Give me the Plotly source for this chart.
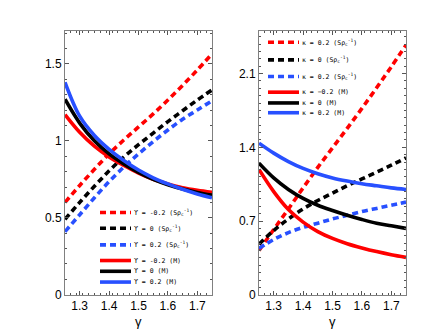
import plotly.graph_objects as go

gamma = [1.25, 1.30, 1.35, 1.40, 1.45, 1.50, 1.55, 1.60, 1.65, 1.70, 1.75]

# Left panel (Upsilon)
L_red_dash = [0.60, 0.71, 0.815, 0.915, 1.005, 1.09, 1.175, 1.265, 1.36, 1.46, 1.565]
L_blk_dash = [0.49, 0.60, 0.705, 0.805, 0.895, 0.975, 1.05, 1.125, 1.195, 1.265, 1.33]
L_blu_dash = [0.41, 0.52, 0.63, 0.735, 0.83, 0.915, 0.995, 1.07, 1.14, 1.20, 1.26]
L_red_sol = [1.17, 1.055, 0.965, 0.895, 0.84, 0.79, 0.75, 0.72, 0.695, 0.678, 0.665]
L_blk_sol = [1.27, 1.115, 1.00, 0.915, 0.85, 0.795, 0.75, 0.715, 0.687, 0.665, 0.647]
L_blu_sol = [1.38, 1.16, 1.035, 0.945, 0.872, 0.81, 0.76, 0.72, 0.685, 0.655, 0.63]

# Right panel (kappa)
R_red_dash = [0.42, 0.62, 0.815, 1.015, 1.21, 1.395, 1.58, 1.77, 1.965, 2.165, 2.37]
R_blk_dash = [0.48, 0.61, 0.72, 0.815, 0.895, 0.965, 1.035, 1.10, 1.165, 1.23, 1.30]
R_blu_dash = [0.44, 0.525, 0.59, 0.64, 0.68, 0.72, 0.755, 0.79, 0.82, 0.85, 0.88]
R_red_sol = [1.19, 0.98, 0.81, 0.69, 0.60, 0.535, 0.485, 0.445, 0.41, 0.38, 0.355]
R_blk_sol = [1.25, 1.11, 1.00, 0.915, 0.85, 0.80, 0.755, 0.715, 0.68, 0.655, 0.63]
R_blu_sol = [1.44, 1.345, 1.265, 1.20, 1.15, 1.11, 1.08, 1.055, 1.035, 1.015, 1.00]

L_labels = ["ϒ = -0.2 (Sρ<sub>c</sub><sup>-1</sup>)", "ϒ = 0 (Sρ<sub>c</sub><sup>-1</sup>)",
            "ϒ = 0.2 (Sρ<sub>c</sub><sup>-1</sup>)", "ϒ = -0.2 (M)", "ϒ = 0 (M)", "ϒ = 0.2 (M)"]
R_labels = ["κ = 0.2 (Sρ<sub>c</sub><sup>-1</sup>)", "κ = 0 (Sρ<sub>c</sub><sup>-1</sup>)",
            "κ = 0.2 (Sρ<sub>c</sub><sup>-1</sup>)", "κ = −0.2 (M)", "κ = 0 (M)", "κ = 0.2 (M)"]
x_title = "γ"

RED = "#FF0000"
BLK = "#000000"
BLU = "#2850FF"
colors = [RED, BLK, BLU, RED, BLK, BLU]
dashes = ["6px,4px"] * 3 + ["solid"] * 3

W, H = 439, 330
fig = go.Figure()

left = [L_red_dash, L_blk_dash, L_blu_dash, L_red_sol, L_blk_sol, L_blu_sol]
right = [R_red_dash, R_blk_dash, R_blu_dash, R_red_sol, R_blk_sol, R_blu_sol]
for ys, c, d in zip(left, colors, dashes):
    fig.add_trace(go.Scatter(x=gamma, y=ys, mode="lines", xaxis="x", yaxis="y",
                             line=dict(color=c, width=3.6, dash=d, shape="spline", smoothing=1.0),
                             showlegend=False))
for ys, c, d in zip(right, colors, dashes):
    fig.add_trace(go.Scatter(x=gamma, y=ys, mode="lines", xaxis="x2", yaxis="y2",
                             line=dict(color=c, width=3.6, dash=d, shape="spline", smoothing=1.0),
                             showlegend=False))

# manual legends (paper coords in pixels)
def px(x): return x / W
def py(y): return 1 - y / H

L_rows = [209, 225, 242, 258, 269, 280]
R_rows = [35, 53, 70, 86, 97, 107]
for rows, labels, x0, x1, xt in [(L_rows, L_labels, 92, 123, 124), (R_rows, R_labels, 260, 291, 292)]:
    for yy, lab, c, d in zip(rows, labels, colors, dashes):
        fig.add_shape(type="line", xref="paper", yref="paper", x0=px(x0), x1=px(x1),
                      y0=py(yy), y1=py(yy), line=dict(color=c, width=3.6, dash=d))
        fig.add_annotation(xref="paper", yref="paper", x=px(xt), y=py(yy), text=lab,
                           showarrow=False, xanchor="left", yanchor="middle",
                           font=dict(family="DejaVu Sans Mono", size=6.5, color="#000"))

# x-axis titles
for xc in [(57 + 204) / 2, (251 + 398) / 2]:
    fig.add_annotation(xref="paper", yref="paper", x=px(xc), y=py(311), text=x_title,
                       showarrow=False, xanchor="center", yanchor="top",
                       font=dict(family="Liberation Sans", size=13, color="#000"))

axis_common = dict(showline=True, linecolor="#808080", linewidth=1, mirror="ticks",
                   ticks="inside", ticklen=4, tickcolor="#555", showgrid=False,
                   zeroline=False, tickfont=dict(family="Liberation Sans", size=12, color="#000"))
xcommon = dict(axis_common, range=[1.25, 1.75], tick0=1.3, dtick=0.1,
               minor=dict(ticks="inside", ticklen=2, dtick=0.02, tick0=1.25, tickcolor="#555"))

fig.update_layout(
    width=W, height=H, margin=dict(l=0, r=0, t=0, b=0),
    paper_bgcolor="white", plot_bgcolor="white",
    xaxis=dict(xcommon, domain=[57 / W, 204 / W], anchor="y"),
    yaxis=dict(axis_common, domain=[1 - 293 / H, 1 - 24 / H], anchor="x", range=[0, 1.71],
               tick0=0, dtick=0.5,
               minor=dict(ticks="inside", ticklen=2, dtick=0.1, tick0=0, tickcolor="#555")),
    xaxis2=dict(xcommon, domain=[251 / W, 398 / W], anchor="y2"),
    yaxis2=dict(axis_common, domain=[1 - 293 / H, 1 - 24 / H], anchor="x2", range=[0, 2.5],
                tick0=0, dtick=0.7,
                minor=dict(ticks="inside", ticklen=2, dtick=0.07, tick0=0, tickcolor="#555")),
)

fig.write_html("out.html")
